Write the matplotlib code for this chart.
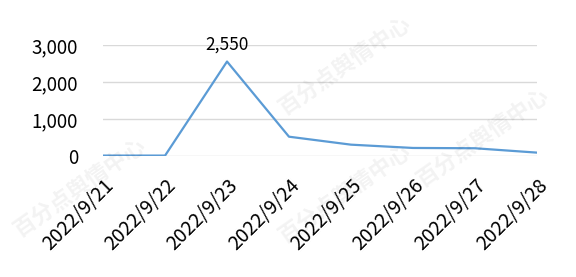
import matplotlib
matplotlib.use("Agg")
import matplotlib.pyplot as plt

# 数据
dates = ["2022/9/21", "2022/9/22", "2022/9/23", "2022/9/24",
         "2022/9/25", "2022/9/26", "2022/9/27", "2022/9/28"]
values = [10, 10, 2550, 520, 305, 216, 208, 90]
yticks = [0, 1000, 2000, 3000]

plt.rcParams['font.family'] = ['Noto Sans CJK SC', 'DejaVu Sans']

fig = plt.figure(figsize=(5.76, 2.77), dpi=100)
ax = fig.add_axes([0.179, 0.437, 0.753, 0.401])

x = list(range(len(dates)))
ax.plot(x, values, color="#5B9BD5", linewidth=1.6)
ax.annotate("{:,}".format(values[2]), (x[2], values[2]), xytext=(0, 6),
            textcoords="offset points", ha="center", va="bottom", fontsize=12.5)

ax.set_xlim(0, len(dates) - 1)
ax.set_ylim(0, 3000)
ax.set_yticks(yticks)
ax.set_yticklabels(["{:,}".format(v) for v in yticks], fontsize=13.5)
ax.set_xticks(x)
ax.set_xticklabels(dates, rotation=45, ha="right", rotation_mode="anchor", fontsize=14)
ax.tick_params(axis="y", length=0, pad=18)
ax.tick_params(axis="x", length=0, pad=14)
ax.grid(axis="y", color="#d9d9d9", linewidth=1)
ax.set_axisbelow(True)
for s in ax.spines.values():
    s.set_visible(False)

# 水印
for (wx, wy) in [(0.14, 0.32), (0.6, 0.3), (0.6, 0.76), (0.84, 0.5)]:
    fig.text(wx, wy, "百分点舆情中心", rotation=35, fontsize=16, color="#000000",
             alpha=0.05, ha="center", va="center", fontweight="bold")

fig.savefig("out.png", dpi=100)
